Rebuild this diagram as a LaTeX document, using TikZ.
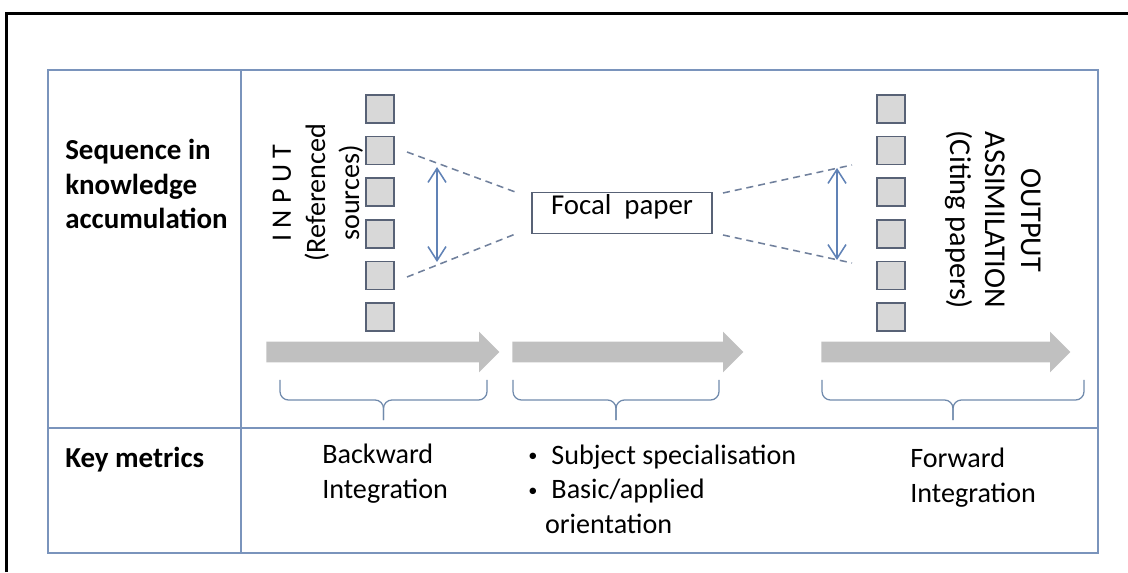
\documentclass[tikz,border=0pt]{standalone}
\usepackage{fontspec}
\setmainfont{Carlito}
\usepackage{tikz}
\usetikzlibrary{arrows.meta, shapes.arrows, positioning}

\definecolor{tblline}{RGB}{122,148,188}
\definecolor{darrow}{RGB}{96,130,182}
\definecolor{dashln}{RGB}{112,128,156}
\definecolor{sqfill}{RGB}{216,216,216}
\definecolor{sqdraw}{RGB}{88,98,118}
\definecolor{bigarr}{RGB}{192,192,192}
\definecolor{brccol}{RGB}{112,138,172}

\newcommand{\bigfont}{\fontsize{20}{24.3}\selectfont}
\newcommand{\boldfont}{\fontsize{20.6}{24.6}\selectfont\bfseries}
\newcommand{\dotitem}{\raisebox{0.1em}{\fontsize{13}{13}\selectfont\textbullet}\hspace{0.5em}}

\tikzstyle{mtext} = [font=\bigfont, align=left, inner sep=0pt, anchor=base west]
\tikzstyle{htext} = [mtext, font=\boldfont]
\tikzstyle{src} = [rectangle, draw=sqdraw, fill=sqfill, line width=1.2pt,
  minimum size=0.7cm, inner sep=0pt]
\tikzstyle{focal} = [rectangle, draw=sqdraw, line width=1pt, font=\fontsize{20.5}{24}\selectfont,
  minimum width=4.5cm, minimum height=1.025cm, text height=0.5cm, text depth=0.4cm, inner sep=0pt]
\tikzstyle{flow} = [single arrow, fill=bigarr, draw=none, minimum width=1cm,
  text height=0.25cm, text depth=0.25cm, text width=0pt,
  single arrow head extend=0.25cm, single arrow head indent=0pt, inner sep=0pt, anchor=west]
\tikzstyle{spread} = [draw=darrow, line width=1.1pt,
  {Straight Barb[length=0.35cm,width=0.45cm]}-{Straight Barb[length=0.35cm,width=0.45cm]}]
\tikzstyle{fan} = [draw=dashln, line width=1.1pt, dash pattern=on 5pt off 3.5pt]
\tikzstyle{tbl} = [draw=tblline, line width=1.1pt]
\tikzstyle{brc} = [draw=brccol, line width=0.9pt, rounded corners=6pt]

\newcommand{\kbrace}[3]{%
  \draw[brc] (#1,192) -- (#1,172) -- (#2,172) -- (#2,152);
  \draw[brc] (#3,192) -- (#3,172) -- (#2,172) -- (#2,152);}

\begin{document}
\begin{tikzpicture}[x=0.025cm, y=0.025cm]
    \useasboundingbox (0,0) rectangle (1128,572);
    \draw[line width=2.4pt] (6.5,0) -- (6.5,558.5) -- (1128,558.5);

    \draw[tbl] (48,19) rectangle (1098,502);
    \draw[tbl] (241,19) -- (241,502);
    \draw[tbl] (48,144) -- (1098,144);

    \node[htext] (seq) at (65,343) {Sequence in\\knowledge\\accumulation};
    \node[htext] (key) at (65,105) {Key metrics};

    \foreach \i in {1,...,6} {
      \node[src] (in\i) at (380,504.6-41.6*\i) {};
      \node[src] (out\i) at (891,504.6-41.6*\i) {};
    }

    \node[mtext, rotate=90, align=center, anchor=center] (input) at (318,379)
      {I N P U T\\(Referenced\\sources)};
    \node[mtext, rotate=-90, align=center, anchor=center,
      font=\fontsize{21.5}{25.2}\selectfont] (output) at (993,352)
      {OUTPUT\\ASSIMILATION\\(Citing papers)};

    \node[focal] (paper) at (622,359) {Focal\ \ paper};

    \coordinate (ltop) at (407,420);
    \coordinate (lbot) at (407,295);
    \coordinate (lfa) at (518,379);
    \coordinate (lfb) at (518,339);
    \coordinate (rfa) at (723,379);
    \coordinate (rfb) at (723,337);
    \coordinate (rtop) at (852,407);
    \coordinate (rbot) at (852,309);
    \coordinate (la) at (437,405);
    \coordinate (lb) at (437,310);
    \coordinate (ra) at (837,404);
    \coordinate (rb) at (837,312);

    \draw[fan] (ltop) -- (lfa);
    \draw[fan] (lbot) -- (lfb);
    \draw[fan] (rfa) -- (rtop);
    \draw[fan] (rfb) -- (rbot);
    \draw[spread] (la) -- (lb);
    \draw[spread] (ra) -- (rb);

    \node[flow, minimum height=5.825cm] (arr1) at (266,220) {};
    \node[flow, minimum height=5.775cm] (arr2) at (512,220) {};
    \node[flow, minimum height=6.225cm] (arr3) at (821,220) {};

    \kbrace{280}{383.5}{487}
    \kbrace{513}{616}{719}
    \kbrace{822}{953}{1084}

    \node[mtext] (back) at (322,74) {Backward\\Integration};
    \node[mtext] (topic) at (528,39) {\dotitem Subject specialisation\\
      \dotitem Basic/applied\\\hspace*{0.42cm}orientation};
    \node[mtext] (fwd) at (910,70) {Forward\\Integration};

  \end{tikzpicture}
\end{document}
